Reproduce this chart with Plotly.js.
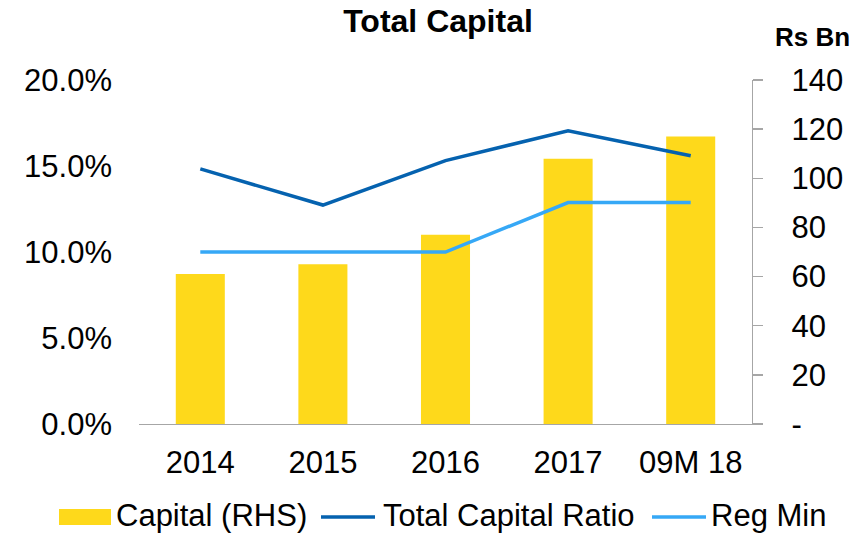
<!DOCTYPE html>
<html>
<head>
<meta charset="utf-8">
<script src="https://cdn.plot.ly/plotly-3.0.1.min.js"></script>
<style>html,body{margin:0;padding:0;background:#fff;}#chart{width:863px;height:533px;}</style>
</head>
<body>
<div id="chart"></div>
<script>
// ---- data ----
const categories = ['2014', '2015', '2016', '2017', '09M 18'];
const capitalRHS = [61, 65, 77, 108, 117];                       // Rs Bn
const totalCapitalRatio = [0.1483, 0.1273, 0.1531, 0.1705, 0.1560];
const regMin = [0.10, 0.10, 0.10, 0.12875, 0.12875];
const seriesNames = ['Capital (RHS)', 'Total Capital Ratio', 'Reg Min'];
const leftTickVals = [0, 0.05, 0.10, 0.15, 0.20];
const leftTickText = ['0.0%', '5.0%', '10.0%', '15.0%', '20.0%'];
const rightTickVals = [0, 20, 40, 60, 80, 100, 120, 140];
const rightTickText = ['-', '20', '40', '60', '80', '100', '120', '140'];

// ---- style ----
const FONT = 'Liberation Sans, Arial, sans-serif';
const YELLOW = '#FED91B';
const DARK = '#0562AF';
const LIGHT = '#36A8F6';
const AXISGRAY = '#A6A6A6';
const W = 863, H = 533;
const M = {l: 139, r: 111, t: 80, b: 109};
const PW = W - M.l - M.r, PH = H - M.t - M.b;
const px2x = p => (p - M.l) / PW;
const py2y = p => (H - M.b - p) / PH;

const traces = [
  {type: 'bar', x: categories, y: capitalRHS, name: seriesNames[0], yaxis: 'y',
   marker: {color: YELLOW}, width: 0.4, hoverinfo: 'skip', showlegend: false},
  {type: 'scatter', mode: 'lines', x: categories, y: totalCapitalRatio, name: seriesNames[1], yaxis: 'y2',
   line: {color: DARK, width: 3.5}, hoverinfo: 'skip', showlegend: false},
  {type: 'scatter', mode: 'lines', x: categories, y: regMin, name: seriesNames[2], yaxis: 'y2',
   line: {color: LIGHT, width: 3.5}, hoverinfo: 'skip', showlegend: false}
];

// custom legend (position in pixels -> paper)
const legY = 517;
const textY = 515;
const shapes = [
  {type: 'rect', xref: 'paper', yref: 'paper', x0: px2x(59), x1: px2x(111), y0: py2y(525), y1: py2y(509),
   fillcolor: YELLOW, line: {width: 0}},
  {type: 'line', xref: 'paper', yref: 'paper', x0: px2x(321), x1: px2x(375), y0: py2y(legY), y1: py2y(legY),
   line: {color: DARK, width: 3.5}},
  {type: 'line', xref: 'paper', yref: 'paper', x0: px2x(652), x1: px2x(706), y0: py2y(legY), y1: py2y(legY),
   line: {color: LIGHT, width: 3.5}}
];
const legFont = {family: FONT, size: 31, color: '#000'};
const annotations = [
  {xref: 'paper', yref: 'paper', x: px2x(115), y: py2y(textY), xanchor: 'left', yanchor: 'middle',
   text: seriesNames[0], showarrow: false, font: legFont, borderpad: 0},
  {xref: 'paper', yref: 'paper', x: px2x(382), y: py2y(textY), xanchor: 'left', yanchor: 'middle',
   text: seriesNames[1], showarrow: false, font: legFont, borderpad: 0},
  {xref: 'paper', yref: 'paper', x: px2x(710), y: py2y(textY), xanchor: 'left', yanchor: 'middle',
   text: seriesNames[2], showarrow: false, font: legFont, borderpad: 0},
  {xref: 'paper', yref: 'paper', x: px2x(812), y: py2y(37), xanchor: 'center', yanchor: 'middle',
   text: '<b>Rs Bn</b>', showarrow: false, font: {family: FONT, size: 26, color: '#000'}}
];

const layout = {
  width: W, height: H,
  margin: M,
  paper_bgcolor: '#fff', plot_bgcolor: '#fff',
  font: {family: FONT, size: 31, color: '#000'},
  title: {text: '<b>Total Capital</b>', font: {family: FONT, size: 32, color: '#000'},
          x: 438 / W, xanchor: 'center', xref: 'container', y: 1 - 21 / H, yanchor: 'middle', yref: 'container'},
  showlegend: false,
  bargap: 0.6,
  xaxis: {type: 'category', showline: true, linecolor: AXISGRAY, linewidth: 1.3, ticks: '',
          showgrid: false, zeroline: false, tickfont: {family: FONT, size: 31, color: '#000'},
          ticklabelstandoff: 10},
  yaxis: {side: 'right', range: [0, 140], tickvals: rightTickVals, ticktext: rightTickText,
          ticks: 'outside', ticklen: 10, tickcolor: AXISGRAY, tickwidth: 1.3,
          showline: true, linecolor: AXISGRAY, linewidth: 1.3, showgrid: false, zeroline: false,
          tickfont: {family: FONT, size: 31, color: '#000'}, ticklabelstandoff: 22, fixedrange: true},
  yaxis2: {side: 'left', overlaying: 'y', range: [0, 0.2], tickvals: leftTickVals, ticktext: leftTickText,
           ticks: '', showline: false, showgrid: false, zeroline: false,
           tickfont: {family: FONT, size: 31, color: '#000'}, ticklabelstandoff: 26, fixedrange: true},
  shapes: shapes,
  annotations: annotations
};

Plotly.newPlot('chart', traces, layout, {displayModeBar: false, staticPlot: true});
</script>
</body>
</html>
